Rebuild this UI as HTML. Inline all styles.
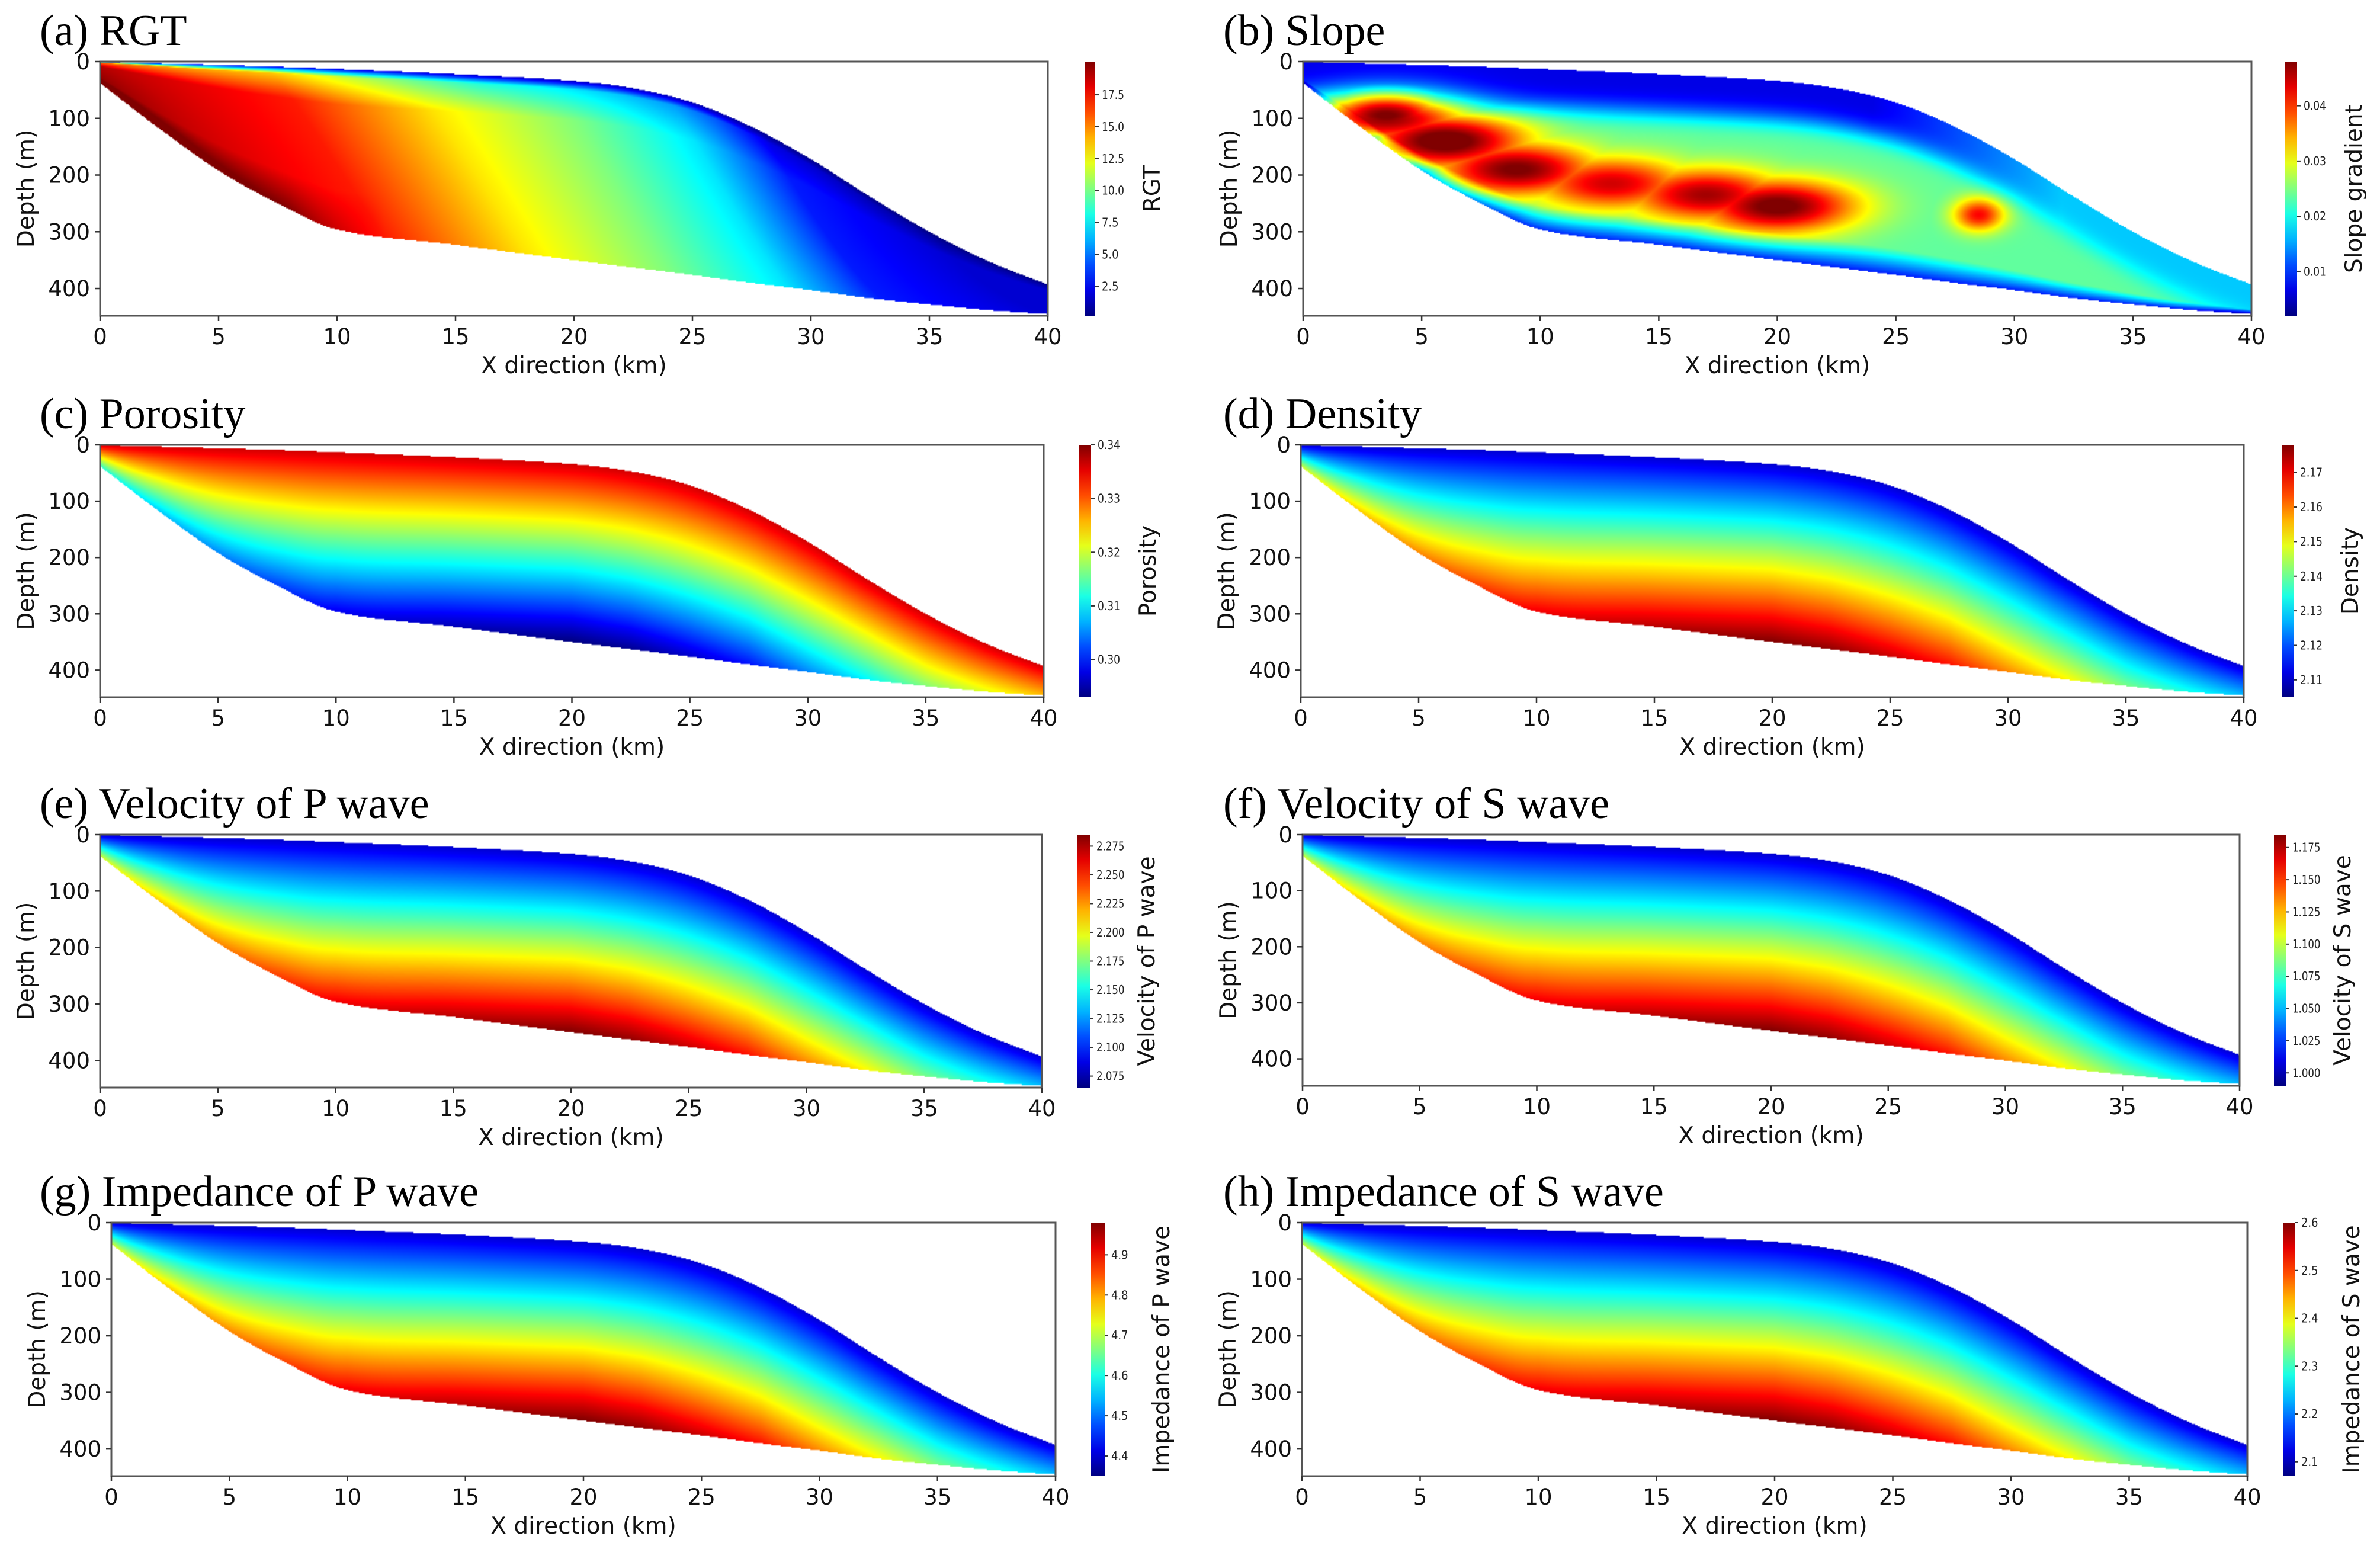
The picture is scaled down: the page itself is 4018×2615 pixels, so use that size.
<!DOCTYPE html>
<html><head><meta charset="utf-8">
<style>
html,body{margin:0;padding:0;background:#fff;}
#root{position:relative;width:4018px;height:2615px;overflow:hidden;background:#fff;}
canvas{position:absolute;}
svg{position:absolute;left:0;top:0;}
</style></head>
<body>
<div id="root">
<svg id="ov" width="4018" height="2615"></svg>
</div>
<script>
// ---- shared data ----
const xKnots   = [0, 2.5, 5, 7.5, 10, 15, 20, 22.5, 25, 27.5, 30, 32.5, 35, 37.5, 40];
const topDepth = [0, 3, 6, 9, 13, 22, 34, 47, 72, 115, 172, 238, 300, 352, 393];
const botDepth = [38, 118, 192, 250, 296, 323, 350, 363, 376, 390, 403, 417, 428, 438, 445];
const depthProfile = [0.55, 0.65, 0.72, 0.8, 0.88, 0.94, 1.0, 0.98, 0.92, 0.85, 0.72, 0.6, 0.45, 0.35, 0.25];
const rgtC = [0, 5, 12, 18, 24, 29, 33, 40];
const rgtT = [1, 0.93, 0.85, 0.65, 0.5, 0.35, 0.15, 0.08];
const xTicks = [0, 5, 10, 15, 20, 25, 30, 35, 40];
const yTicks = [0, 100, 200, 300, 400];
const slopeBlobX   = [3.5, 6, 9, 13, 17, 20, 28.5];
const slopeBlobD   = [95, 140, 190, 215, 235, 255, 270];
const slopeBlobAmp = [0.6, 0.65, 0.6, 0.5, 0.55, 0.62, 0.45];
const XMAX = 40, YMAX = 448;

const titles = ["(a) RGT","(b) Slope","(c) Porosity","(d) Density","(e) Velocity of P wave","(f) Velocity of S wave","(g) Impedance of P wave","(h) Impedance of S wave"];
const cbLabels = ["RGT","Slope gradient","Porosity","Density","Velocity of P wave","Velocity of S wave","Impedance of P wave","Impedance of S wave"];
const cbTicksA = ["2.5","5.0","7.5","10.0","12.5","15.0","17.5"];
const cbTicksB = ["0.01","0.02","0.03","0.04"];
const cbTicksC = ["0.30","0.31","0.32","0.33","0.34"];
const cbTicksD = ["2.11","2.12","2.13","2.14","2.15","2.16","2.17"];
const cbTicksE = ["2.075","2.100","2.125","2.150","2.175","2.200","2.225","2.250","2.275"];
const cbTicksF = ["1.000","1.025","1.050","1.075","1.100","1.125","1.150","1.175"];
const cbTicksG = ["4.4","4.5","4.6","4.7","4.8","4.9"];
const cbTicksH = ["2.1","2.2","2.3","2.4","2.5","2.6"];
const cbTickSets = [cbTicksA,cbTicksB,cbTicksC,cbTicksD,cbTicksE,cbTicksF,cbTicksG,cbTicksH];
const cbMin = [0.2, 0.002, 0.293, 2.105, 2.065, 0.99, 4.35, 2.07];
const cbMax = [20.1, 0.048, 0.340, 2.178, 2.285, 1.185, 4.98, 2.60];
const kinds = ["rgt","slope","por","inc","inc","inc","inc","inc"];

// layout [L,R,T,B,cbL,cbR,titleX]
const layout = [
 [169,1769,104,533,1831,1849,67],
 [2200,3801,104,533,3858,3878,2065],
 [169,1762,751,1177,1821,1842,67],
 [2196,3788,751,1177,3852,3872,2065],
 [169,1759,1409,1836,1818,1840,67],
 [2199,3781,1409,1833,3839,3859,2065],
 [188,1782,2064,2492,1842,1865,67],
 [2198,3794,2064,2492,3854,3874,2065]
];

function interp(xs, ys, x){
  if (x<=xs[0]) return ys[0];
  for (let i=1;i<xs.length;i++){ if (x<=xs[i]){ const f=(x-xs[i-1])/(xs[i]-xs[i-1]); return ys[i-1]+f*(ys[i]-ys[i-1]); } }
  return ys[ys.length-1];
}
function smooth(xs, ys, x){
  const n=xs.length;
  if (x<=xs[0]) return ys[0];
  if (x>=xs[n-1]) return ys[n-1];
  let i=1; while(x>xs[i]) i++;
  const i0=i-1, h=xs[i]-xs[i0], t=(x-xs[i0])/h;
  const m=k=>{ if(k<=0) return (ys[1]-ys[0])/(xs[1]-xs[0]); if(k>=n-1) return (ys[n-1]-ys[n-2])/(xs[n-1]-xs[n-2]); return (ys[k+1]-ys[k-1])/(xs[k+1]-xs[k-1]); };
  const t2=t*t,t3=t2*t;
  return (2*t3-3*t2+1)*ys[i0]+(t3-2*t2+t)*h*m(i0)+(-2*t3+3*t2)*ys[i]+(t3-t2)*h*m(i);
}
function clamp(v){return v<0?0:v>1?1:v;}
function jet(t){
  t=clamp(t);
  return [clamp(1.5-Math.abs(4*t-3)), clamp(1.5-Math.abs(4*t-2)), clamp(1.5-Math.abs(4*t-1))].map(v=>Math.round(v*255));
}
function field(kind,x,d,s,top){
  if (kind==="rgt"){
    let t = interp(rgtC,rgtT,x+5*(1-s));
    t += 0.1*Math.max(0,(s-0.75)/0.25)*clamp((12-x)/4);
    t -= 0.22*Math.max(0,1-s/0.22)*(1-0.7*clamp((x-16)/10));
    t *= Math.min(1,0.2+s/0.06);
    return t;
  }
  if (kind==="slope"){
    const dd=d-top;
    let t=0.47;
    const w = 1-0.6*clamp((x-24)/8);
    t -= 0.37*Math.exp(-Math.pow(dd/75,4))*w;
    t -= 0.32*Math.max(0,(s-0.85)/0.15);
    let blob=0;
    for (let i=0;i<slopeBlobX.length;i++){
      const sx = i===6?1.1:3.4, sd = i===6?30:48;
      blob = Math.max(blob, slopeBlobAmp[i]*Math.exp(-Math.pow((x-slopeBlobX[i])/sx,2)-Math.pow((d-slopeBlobD[i])/sd,2)));
    }
    return Math.min(Math.max(t, 0.47*blob/0.6) + blob*0.9, 1);
  }
  const f=interp(xKnots,depthProfile,x);
  const v=0.08+0.92*s*f;
  return kind==="por"?1-v:v;
}

const svg=document.getElementById('ov');
const root=document.getElementById('root');
const NS="http://www.w3.org/2000/svg";
function mk(tag,attrs,parent){const e=document.createElementNS(NS,tag);for(const k in attrs)e.setAttribute(k,attrs[k]);(parent||svg).appendChild(e);return e;}
const sans='"DejaVu Sans","Liberation Sans",sans-serif';

layout.forEach((Lg,p)=>{
  const [L,R,T,B,cL,cR,tx]=Lg;
  const W=R-L,H=B-T;
  const xs=v=>L+v/XMAX*W, ys=v=>T+v/YMAX*H;
  const cw=Math.round(W/2), ch=Math.round(H/2);
  const cv=document.createElement('canvas');
  cv.width=cw; cv.height=ch;
  cv.style.left=L+'px'; cv.style.top=T+'px'; cv.style.width=W+'px'; cv.style.height=H+'px';
  
  
  root.insertBefore(cv,svg);
  const ctx=cv.getContext('2d');
  const img=ctx.createImageData(cw,ch);
  for(let i=0;i<cw;i++){
    const x=(i+0.5)/cw*XMAX;
    const tp=smooth(xKnots,topDepth,x), bt=smooth(xKnots,botDepth,x);
    for(let j=0;j<ch;j++){
      const d=(j+0.5)/ch*YMAX;
      const k=(j*cw+i)*4;
      if(d<tp||d>bt){img.data[k]=255;img.data[k+1]=255;img.data[k+2]=255;img.data[k+3]=255;continue;}
      const s=(d-tp)/(bt-tp);
      const c=jet(field(kinds[p],x,d,s,tp));
      img.data[k]=c[0];img.data[k+1]=c[1];img.data[k+2]=c[2];img.data[k+3]=255;
    }
  }
  ctx.putImageData(img,0,0);

  const g=mk('g',{});
  
  
  const title=mk('text',{x:tx,y:T-28,'font-family':'"Liberation Serif",serif','font-size':74,fill:'#000'},g);
  title.textContent=titles[p];
  
  
  const frame=mk('rect',{x:L,y:T,width:W,height:H,fill:'none',stroke:'#555',"stroke-width":3},g);
  
  
  xTicks.forEach(v=>{
    const X=xs(v);
    mk('line',{x1:X,x2:X,y1:B,y2:B+9,stroke:'#333','stroke-width':2.5},g);
    const t=mk('text',{x:X,y:B+48,'text-anchor':'middle','font-family':sans,'font-size':37,fill:'#111'},g);
    t.textContent=v;
    
    
  });
  yTicks.forEach(v=>{
    const Y=ys(v);
    mk('line',{x1:L-9,x2:L,y1:Y,y2:Y,stroke:'#333','stroke-width':2.5},g);
    const t=mk('text',{x:L-17,y:Y+13,'text-anchor':'end','font-family':sans,'font-size':37,fill:'#111'},g);
    t.textContent=v;
    
    
  });
  const xl=mk('text',{x:(L+R)/2,y:B+97,'text-anchor':'middle','font-family':sans,'font-size':39,fill:'#111'},g);
  xl.textContent='X direction (km)';
  
  
  const ylx=L-126;
  const yl=mk('text',{x:ylx,y:(T+B)/2,'text-anchor':'middle','font-family':sans,'font-size':39,fill:'#111',transform:`rotate(-90 ${ylx} ${(T+B)/2}) translate(0 14)`},g);
  yl.textContent='Depth (m)';
  
  
  const gid='cbg'+p;
  const grad=mk('linearGradient',{id:gid,x1:0,y1:1,x2:0,y2:0},g);
  for(let i=0;i<=10;i++){const c=jet(i/10);mk('stop',{offset:i/10,'stop-color':`rgb(${c[0]},${c[1]},${c[2]})`},grad);}
  const cb=mk('rect',{x:cL,y:T,width:cR-cL,height:H,fill:`url(#${gid})`},g);
  
  
  const mn=cbMin[p],mx=cbMax[p];
  cbTickSets[p].forEach(lbl=>{
    const v=parseFloat(lbl);
    const Y=B-(v-mn)/(mx-mn)*H;
    mk('line',{x1:cR,x2:cR+6,y1:Y,y2:Y,stroke:'#333','stroke-width':2},g);
    const t=mk('text',{x:cR+11,y:Y+7,'font-family':sans,'font-size':20,fill:'#222',textLength:lbl.length*9.5,lengthAdjust:'spacingAndGlyphs'},g);
    t.textContent=lbl;
    
    
  });
  const cx=cR+95;
  const cl=mk('text',{x:cx,y:(T+B)/2,'text-anchor':'middle','font-family':sans,'font-size':39,fill:'#111',transform:`rotate(-90 ${cx} ${(T+B)/2}) translate(0 14)`},g);
  cl.textContent=cbLabels[p];
  
  
});
</script>
</body></html>
